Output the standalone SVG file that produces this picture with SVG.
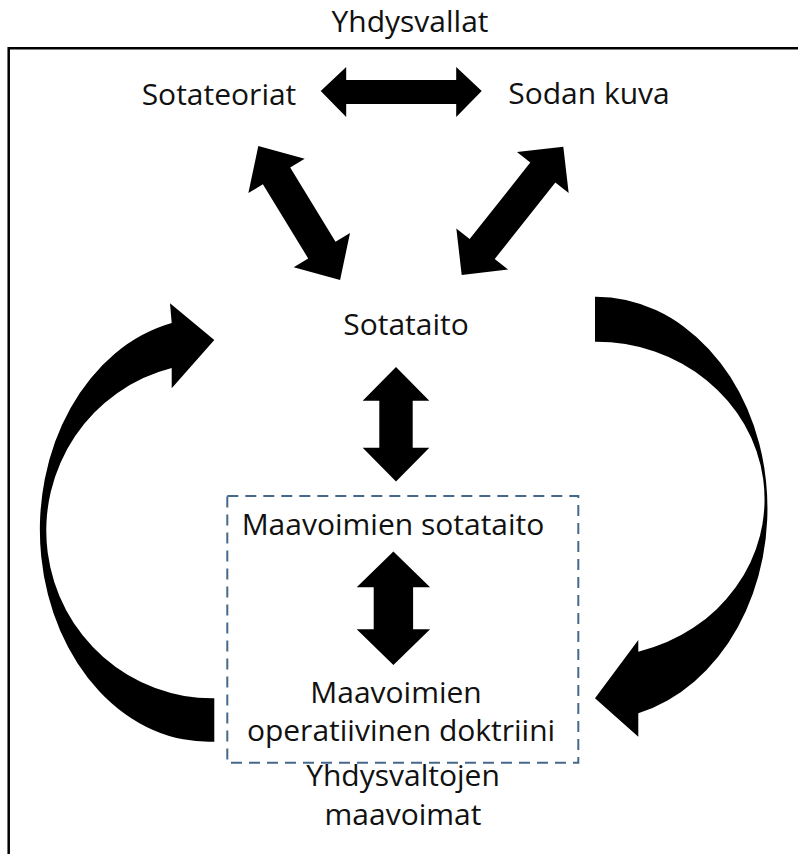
<svg xmlns="http://www.w3.org/2000/svg" width="798" height="854" viewBox="0 0 798 854">
<style>
text{font-family:"Open Sans","Liberation Sans",sans-serif;font-size:30px;fill:#111;text-anchor:middle}
.arr{fill:#000}
.frame{fill:none;stroke:#000;stroke-width:2.5}
.dash{fill:none;stroke:#46688a;stroke-width:2;stroke-dasharray:11 7}
</style>
<rect width="798" height="854" fill="#fff"/>
<path class="frame" d="M8.7,860 V48.3 H806"/>
<g id="label-yhdysvallat"><text x="410" y="32">Yhdysvallat</text></g>
<g id="node-sotateoriat"><text x="219" y="105">Sotateoriat</text></g>
<g id="node-sodankuva"><text x="589" y="104">Sodan kuva</text></g>
<g id="node-sotataito"><text x="406" y="335">Sotataito</text></g>
<g id="node-maavoimat-box">
<rect class="dash" x="227.3" y="496" width="351" height="266.7"/>
<text x="393" y="535">Maavoimien sotataito</text>
<text x="396" y="703">Maavoimien</text>
<text x="401" y="741">operatiivinen doktriini</text>
</g>
<g id="label-yhdysvaltojen"><text x="403" y="786">Yhdysvaltojen</text><text x="403" y="825">maavoimat</text></g>
<g id="connectors">
<polygon class="arr" transform="translate(401.2,92)" points="-80.5,-1 -55,-25 -55,-12 55,-12 55,-25 80.5,-1 55,25 55,12 -55,12 -55,25"/>
<polygon class="arr" transform="translate(299.2,213) rotate(58.6)" points="-78.5,0 -43.5,-33 -43.5,-16 43.5,-16 43.5,-33 78.5,0 43.5,33 43.5,16 -43.5,16 -43.5,33"/>
<polygon class="arr" transform="translate(512.5,210.8) rotate(128.4)" points="-81.8,0 -48.8,-33 -48.8,-16 48.8,-16 48.8,-33 81.8,0 48.8,33 48.8,16 -48.8,16 -48.8,33"/>
<polygon class="arr" transform="translate(396,424.3)" points="0,-57.3 33.3,-23.5 16.7,-23.5 16.7,23.5 33.3,23.5 0,57.3 -33.3,23.5 -16.7,23.5 -16.7,-23.5 -33.3,-23.5"/>
<polygon class="arr" transform="translate(393.4,608.3)" points="0,-56.7 36.7,-21 19.7,-21 19.7,21 36.7,21 0,56.7 -36.7,21 -19.7,21 -19.7,-21 -36.7,-21"/>
<path class="arr" d="M214.3,741.7 A169,212 0 0 1 171.7,323 L170,303.3 L214.3,340 L171.7,388.3 L171.7,368 A166,167.7 0 0 0 214.3,698.3 Z"/>
<path class="arr" d="M595,296.7 A171.7,211.6 0 0 1 638.3,713.3 L638.3,736.7 L595,698.3 L638.3,640 L638.3,651.7 A168.3,157.5 0 0 0 595,341.7 Z"/>
</g>
</svg>
